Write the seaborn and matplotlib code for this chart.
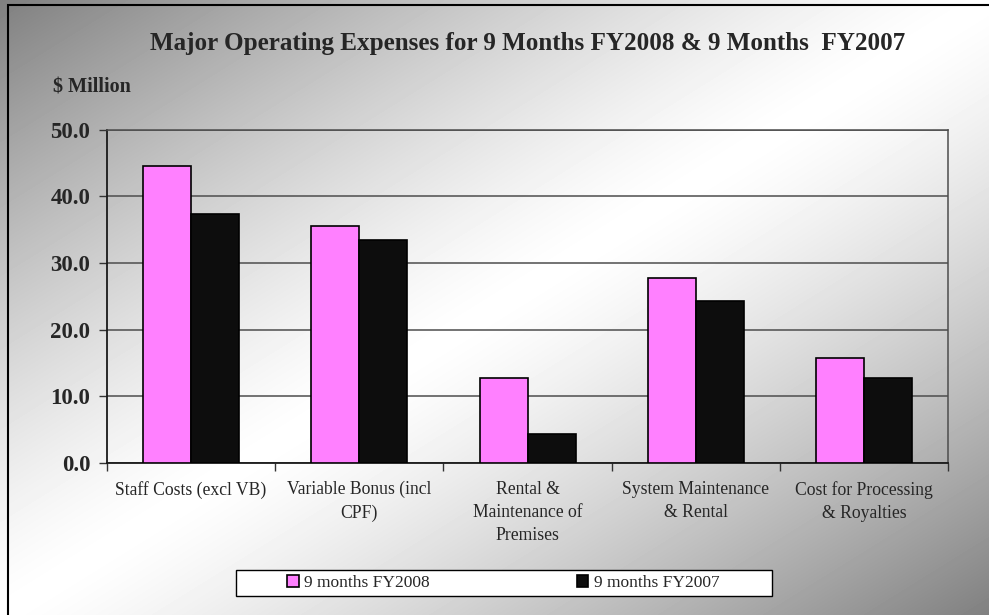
import numpy as np
import pandas as pd
import seaborn as sns
import matplotlib.pyplot as plt
from matplotlib.patches import Rectangle

# values ($ million)
categories = ["Staff Costs (excl VB)", "Variable Bonus (incl\nCPF)",
              "Rental &\nMaintenance of\nPremises", "System Maintenance\n& Rental",
              "Cost for Processing\n& Royalties"]
fy2008 = [44.5, 35.6, 12.7, 27.7, 15.7]
fy2007 = [37.4, 33.4, 4.3, 24.3, 12.7]
series = ["9 months FY2008", "9 months FY2007"]

df = pd.DataFrame({
    "category": categories * 2,
    "series": [series[0]] * 5 + [series[1]] * 5,
    "value": fy2008 + fy2007,
})

sns.set_style("ticks")
plt.rcParams["font.family"] = ["Liberation Serif", "DejaVu Serif"]

fig = plt.figure(figsize=(9.89, 6.15), dpi=100)

# diagonal grey gradient background
bg = fig.add_axes([0, 0, 1, 1], zorder=-5)
h, w = 615, 989
yy, xx = np.mgrid[0:h, 0:w]
s = xx / w + yy / h - 1
shade = 1 - 0.5 * np.abs(s) ** 1.3
bg.imshow(shade, cmap="gray", vmin=0, vmax=1, aspect="auto", extent=[0, 1, 0, 1], origin="upper")
bg.set_axis_off()
fig.patches.append(Rectangle((0.008, -0.01), 1.1, 1.002, transform=fig.transFigure,
                             fill=False, edgecolor="black", linewidth=1.5))

ax = fig.add_axes([0.108, 0.247, 0.851, 0.542])
ax.set_facecolor("none")
sns.barplot(data=df, x="category", y="value", hue="series",
            palette=["#ff80ff", "#0d0d0d"], width=0.57, edgecolor="black",
            linewidth=1.2, saturation=1, ax=ax, zorder=3)

ax.set_ylim(0, 50)
ax.set_xlim(-0.5, 4.5)
ax.set_yticks(np.arange(0, 51, 10))
ax.set_yticklabels([f"{v:.1f}" for v in np.arange(0, 51, 10)], fontsize=16.5, fontweight="bold")
ax.yaxis.grid(True, color="#4d4d4d", linewidth=1.1, zorder=0)
ax.tick_params(axis="y", length=6, width=1, direction="out", pad=6, color="#333333")
ax.tick_params(axis="x", which="major", length=0, pad=13, labelsize=12.7)
for lab in ax.get_xticklabels():
    lab.set_multialignment("center")
    lab.set_linespacing(1.47)
ax.set_xticks(np.arange(-0.5, 5, 1), minor=True)
ax.tick_params(axis="x", which="minor", length=6, width=1, direction="out", color="#333333")
ax.set_xlabel("")
ax.set_ylabel("")
for side in ["left", "bottom"]:
    ax.spines[side].set_color("#1a1a1a")
    ax.spines[side].set_linewidth(1.3)
for side in ["top", "right"]:
    ax.spines[side].set_visible(True)
    ax.spines[side].set_color("#4d4d4d")
    ax.spines[side].set_linewidth(1.1)

fig.text(0.533, 0.929, "Major Operating Expenses for 9 Months FY2008 & 9 Months  FY2007",
         ha="center", va="center", fontsize=18.1, fontweight="bold")
fig.text(0.093, 0.857, "$ Million", ha="center", va="center", fontsize=14.5, fontweight="bold")

# legend in a white box below the chart
handles, labels = ax.get_legend_handles_labels()
ax.legend_.remove()
fig.patches.append(Rectangle((236 / 989, 1 - 596 / 615), 536 / 989, 26 / 615,
                             transform=fig.transFigure, facecolor="white",
                             edgecolor="black", linewidth=1, zorder=1))
leg = fig.legend(handles, labels, loc="center", bbox_to_anchor=(0.509, 1 - 583 / 615),
                 ncol=2, frameon=False, fontsize=12.5, handlelength=0.65,
                 handleheight=0.65, handletextpad=0.3, columnspacing=8.5)
leg.set_zorder(5)

fig.savefig("out.png", dpi=100)
